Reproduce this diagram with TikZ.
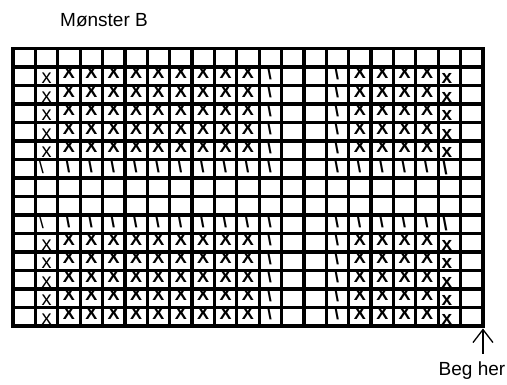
\documentclass[tikz,border=0pt]{standalone}
\usepackage{fontspec}
\setmainfont{Liberation Sans}
\usetikzlibrary{arrows.meta}

\newcommand{\cw}{22.38}
\newcommand{\ch}{18.5}
\newcommand{\gx}{13}
\newcommand{\gy}{48.5}

\begin{document}
\begin{tikzpicture}[x=1pt, y=-1pt,
  gridline/.style={line width=3.2pt, line cap=rect},
  krydsX/.style={font=\fontsize{18}{18}\selectfont\bfseries, inner sep=0pt, anchor=north},
  lillex/.style={font=\fontsize{20}{20}\selectfont, inner sep=0pt, anchor=base},
  fedx/.style={font=\fontsize{19}{19}\selectfont\bfseries, inner sep=0pt, anchor=base},
  skraa/.style={font=\fontsize{18}{18}\selectfont\bfseries, inner sep=0pt, anchor=north},
  langskraa/.style={font=\fontsize{19}{19}\selectfont, inner sep=0pt, anchor=north west},
  fedskraa/.style={font=\fontsize{19}{19}\selectfont\bfseries, inner sep=0pt, anchor=north west},
  tekst/.style={font=\fontsize{19}{22}\selectfont, inner sep=0pt},
  pil/.style={line width=1.3pt, -{Straight Barb[length=13pt, width=20pt]}}]
\useasboundingbox (0,0) rectangle (507,385);

% strikkeraekker
\foreach \r in {2,...,6,11,12,...,15} {
  \pgfmathsetmacro{\ytop}{\gy+(\r-1)*\ch}
  \pgfmathsetmacro{\ybot}{\gy+\r*\ch}
  \node[lillex] (x\r) at ({\gx+1.5*\cw},{\ybot-1.5}) {x};
  \node[fedx] (f\r) at ({\gx+19.5*\cw-2.5},{\ybot-1.5}) {x};
  \foreach \c in {3,...,11,16,17,...,19} {
    \pgfmathsetmacro{\xl}{\gx+(\c-1)*\cw}
    \begin{scope}
      \clip (\xl,\ytop) rectangle ++(\cw,\ch);
      \node[krydsX] (k\r-\c) at ({\xl+\cw/2},{\ytop-1}) {X};
    \end{scope}
  }
  \foreach \c in {12,15} {
    \pgfmathsetmacro{\xl}{\gx+(\c-1)*\cw}
    \begin{scope}
      \clip (\xl,\ytop) rectangle ++(\cw,\ch);
      \node[skraa] (s\r-\c) at ({\xl+\cw/2-1},{\ytop-1}) {\textbackslash};
    \end{scope}
  }
}

% skraa raekker
\foreach \r in {7,10} {
  \pgfmathsetmacro{\ytop}{\gy+(\r-1)*\ch}
  \foreach \c in {3,...,12,15,16,...,19} {
    \pgfmathsetmacro{\xl}{\gx+(\c-1)*\cw}
    \begin{scope}
      \clip (\xl,\ytop) rectangle ++(\cw,\ch);
      \node[skraa] (s\r-\c) at ({\xl+\cw/2-1},{\ytop-0.5}) {\textbackslash};
    \end{scope}
  }
  \begin{scope}
    \clip ({\gx+\cw},\ytop) rectangle ++(\cw,\ch);
    \node[langskraa] (l\r) at ({\gx+\cw+3},{\ytop}) {\textbackslash};
  \end{scope}
  \begin{scope}
    \clip ({\gx+19*\cw},\ytop) rectangle ++(\cw,\ch);
    \node[fedskraa] (b\r) at ({\gx+19*\cw+4},{\ytop+1.5}) {\textbackslash};
  \end{scope}
}

% gitter
\foreach \i in {0,...,21}
  \draw[gridline] ({\gx+\i*\cw},\gy) -- ({\gx+\i*\cw},{\gy+15*\ch});
\foreach \j in {0,...,15}
  \draw[gridline] (\gx,{\gy+\j*\ch}) -- ({\gx+21*\cw},{\gy+\j*\ch});

\node[tekst] (titel) at (104,20) {Mønster B};
\node[tekst] (beg) at (472,371) {Beg her};
\coordinate (spids) at ({\gx+21*\cw},{\gy+15*\ch+2.5});
\coordinate (hale) at ({\gx+21*\cw},354);
\draw[pil] (hale) -- (spids);
\end{tikzpicture}
\end{document}
